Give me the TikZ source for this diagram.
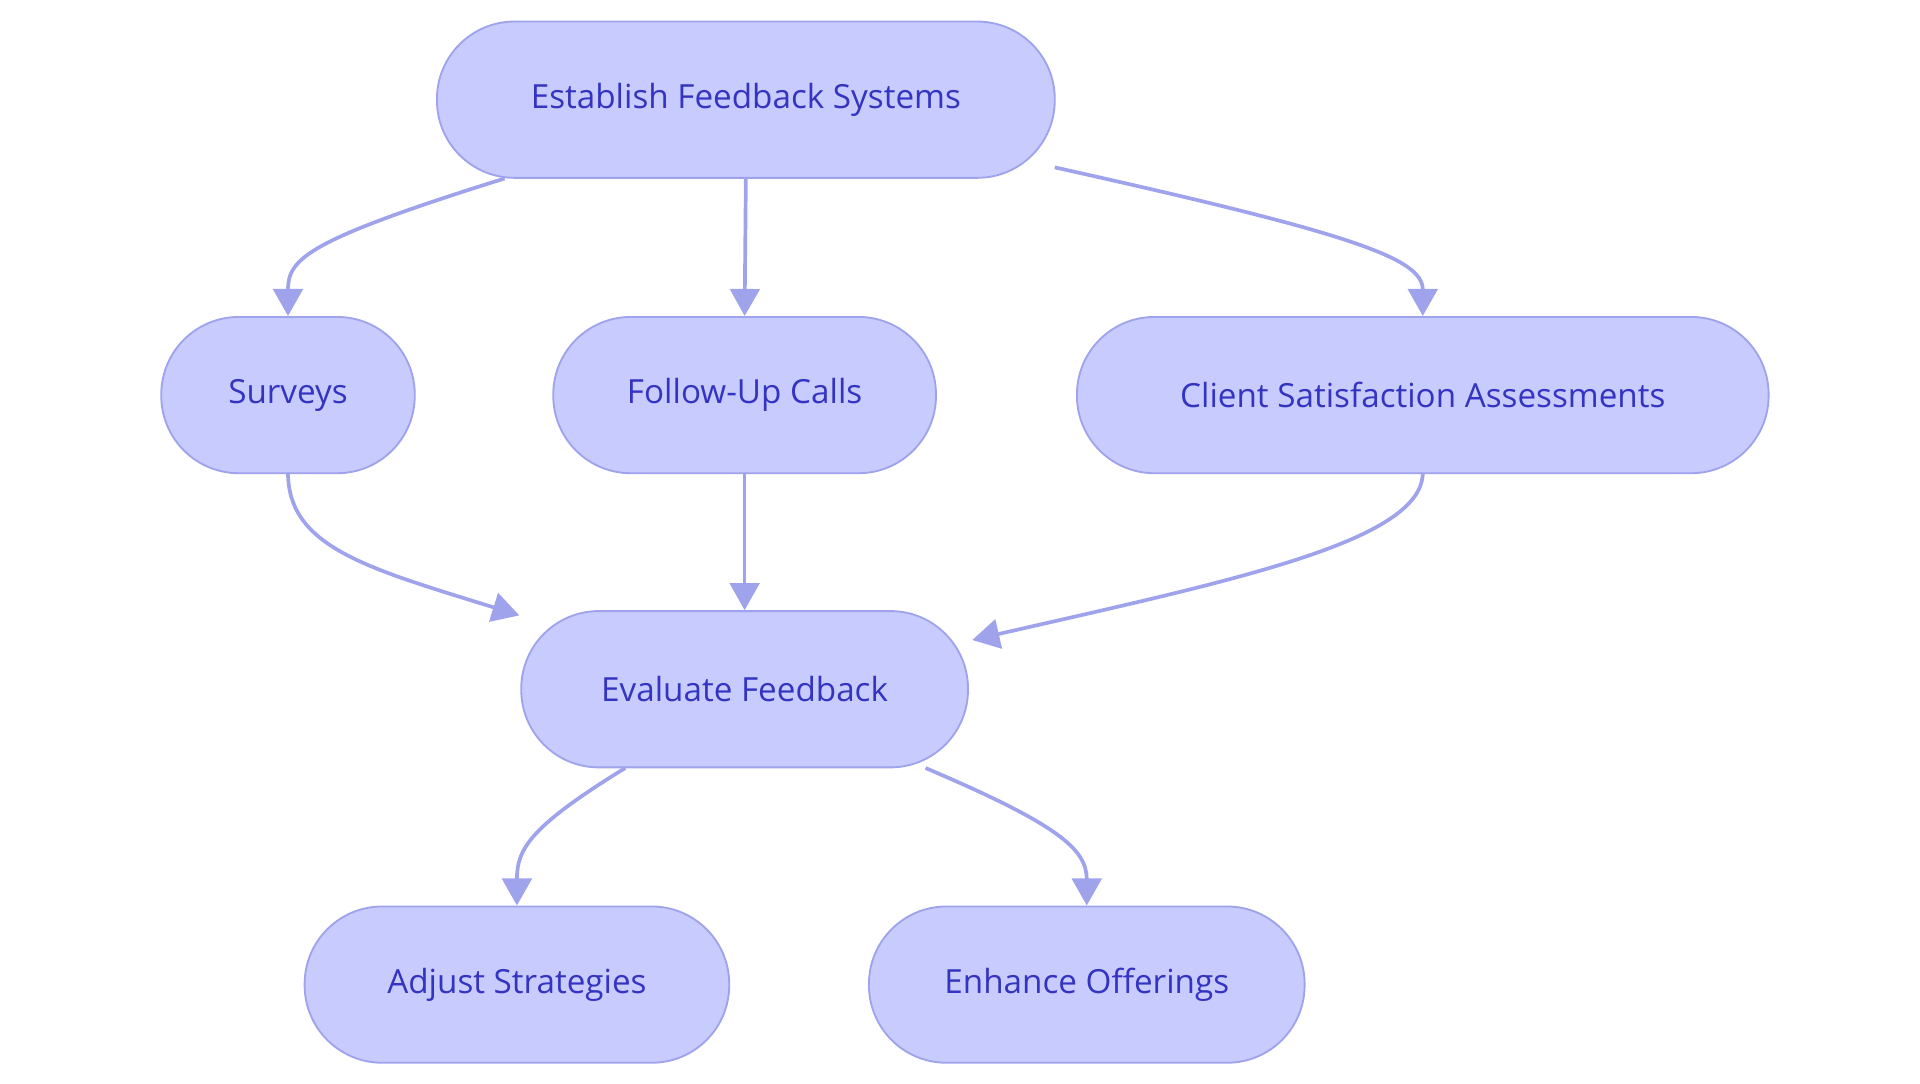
\documentclass[tikz,border=0pt]{standalone}
\usepackage{fontspec}
\setmainfont{Open Sans}
\usetikzlibrary{arrows.meta}
\definecolor{nfill}{HTML}{C8CBFE}
\definecolor{nline}{HTML}{9EA3EC}
\definecolor{ntext}{HTML}{3434C0}
\begin{document}
\begin{tikzpicture}[x=1pt,y=-1pt,
  box/.style={draw=nline,line width=1.5pt,fill=nfill,rounded corners=63pt,minimum height=127pt,text=ntext,font=\fontsize{27}{32}\selectfont,inner sep=0pt},
  arr/.style={draw=nline,line width=3pt,-{Triangle[length=22pt,width=24pt]}}]
\useasboundingbox (0,0) rectangle (1560,880);
\node[box,minimum width=502pt] (est) at (606,81) {Establish Feedback Systems};
\node[box,minimum width=206pt] (sur) at (234,321) {Surveys};
\node[box,minimum width=311pt] (fol) at (605,321) {Follow-Up Calls};
\node[box,minimum width=562pt] (cli) at (1156,321) {Client Satisfaction Assessments};
\node[box,minimum width=363pt] (eva) at (605,560) {Evaluate Feedback};
\node[box,minimum width=345pt] (adj) at (420,800) {Adjust Strategies};
\node[box,minimum width=354pt] (enh) at (883,800) {Enhance Offerings};
\coordinate (e1) at (410,145); \coordinate (e3) at (857,136);
\coordinate (s1) at (234,384); \coordinate (v1) at (422,500);
\coordinate (c1) at (1156,384); \coordinate (v3) at (790,520);
\coordinate (v4) at (508,624); \coordinate (v5) at (752,624);
\draw[arr] (e1) .. controls (250,195) and (234,210) .. (sur.north);
\draw[arr] (est.south) -- (fol.north);
\draw[arr] (e3) .. controls (1100,190) and (1156,210) .. (cli.north);
\draw[arr] (s1) .. controls (234,445) and (300,462) .. (v1);
\draw[arr] (fol.south) -- (eva.north);
\draw[arr] (c1) .. controls (1156,440) and (1000,472) .. (v3);
\draw[arr] (v4) .. controls (430,672) and (420,690) .. (adj.north);
\draw[arr] (v5) .. controls (860,670) and (883,690) .. (enh.north);
\end{tikzpicture}
\end{document}
